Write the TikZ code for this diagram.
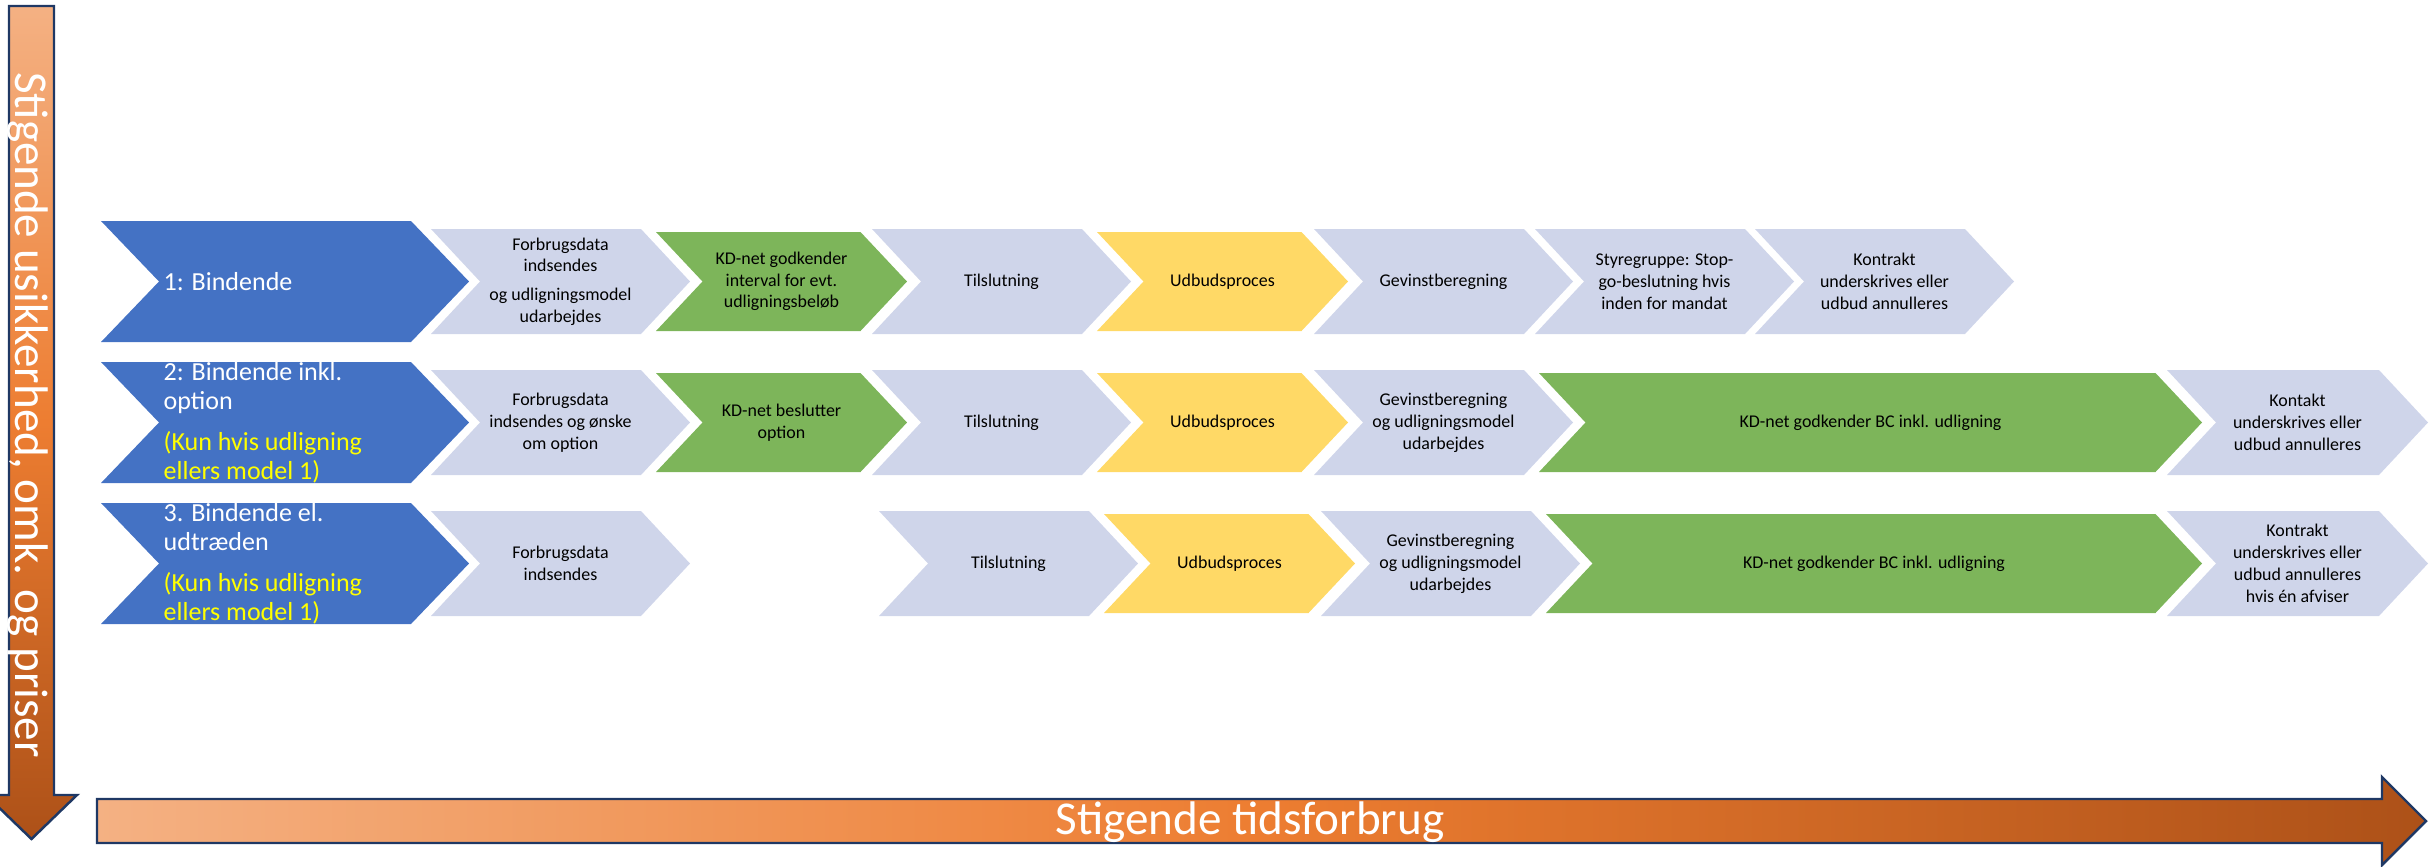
\documentclass[tikz,border=0pt]{standalone}
\usepackage{fontspec}
\setmainfont{Carlito}
\definecolor{chblue}{HTML}{4472C4}
\definecolor{chlav}{HTML}{CFD5EA}
\definecolor{chgreen}{HTML}{7DB55A}
\definecolor{chyel}{HTML}{FFD966}
\definecolor{kunyel}{HTML}{FFFF00}
\definecolor{arrnavy}{HTML}{1F3864}
\definecolor{tlight}{HTML}{F4B183}
\definecolor{tmid}{HTML}{ED7D31}
\definecolor{tdark}{HTML}{AD5118}
\pgfdeclarehorizontalshading{tidgrad}{100bp}{color(0bp)=(tlight); color(25bp)=(tlight); color(50bp)=(tmid); color(75bp)=(tdark); color(100bp)=(tdark)}
% chevron: fill, left x, tip x, mid y, half height, point depth
\newcommand\chev[6]{\fill[#1] (#2,{#4-#5}) -- ({#3-#6},{#4-#5}) -- (#3,#4) -- ({#3-#6},{#4+#5}) -- (#2,{#4+#5}) -- ({#2+#6},#4) -- cycle;}

\begin{document}
\begin{tikzpicture}[x=0.01cm,y=-0.01cm,
  lt/.style={font=\fontsize{5.1}{6.2}\selectfont,align=center,inner sep=0pt},
  bt/.style={font=\fontsize{7.4}{8.25}\selectfont,text=white,align=left,anchor=west,inner sep=0pt},
  arrtxt/.style={font=\fontsize{13.4}{16}\selectfont,text=white,inner sep=0pt,anchor=base},
  arr/.style={shading=tidgrad,draw=arrnavy,line width=0.7pt}]
\useasboundingbox (0,0) rectangle (2432,866);

% axes
\shadedraw[arr,shading angle=-90] (9,6) -- (54,6) -- (54,795) -- (77,795) -- (31.5,839) -- (-14,795) -- (9,795) -- cycle;
\shadedraw[arr] (97,799) -- (2382,799) -- (2382,777) -- (2426,821) -- (2382,865) -- (2382,843) -- (97,843) -- cycle;
\node[arrtxt,rotate=-90] (usik) at (15,415) {Stigende usikkerhed, omk. og priser};
\node[arrtxt] (tid) at (1250,834) {Stigende tidsforbrug};

% row 1
\chev{chblue}{101}{469}{281.5}{60.5}{58}
\chev{chlav}{431}{690}{281.5}{52.5}{49}
\chev{chgreen}{656}{907}{281.5}{49.5}{46.5}
\chev{chlav}{872}{1131}{281.5}{52.5}{49}
\chev{chyel}{1097}{1348}{281.5}{49.5}{46.5}
\chev{chlav}{1314}{1573}{281.5}{52.5}{49}
\chev{chlav}{1535}{1794}{281.5}{52.5}{49}
\chev{chlav}{1755}{2014}{281.5}{52.5}{49}
\node[bt] (b1) at (163,281.5) {1: Bindende};
\node[lt] (fd1) at (560.5,281.5) {Forbrugsdata\\indsendes\\[1.9pt]og udligningsmodel\\udarbejdes};
\node[lt] (kd1) at (781.5,281.5) {KD-net godkender\\interval for evt.\\udligningsbeløb};
\node[lt] (ti1) at (1001.5,281.5) {Tilslutning};
\node[lt] (ud1) at (1222.5,281.5) {Udbudsproces};
\node[lt] (ge1) at (1443.5,281.5) {Gevinstberegning};
\node[lt] (st1) at (1664.5,281.5) {Styregruppe: Stop-\\go-beslutning hvis\\inden for mandat};
\node[lt] (ko1) at (1884.5,281.5) {Kontrakt\\underskrives eller\\udbud annulleres};

% row 2
\chev{chblue}{101}{469}{422.5}{60.5}{58}
\chev{chlav}{431}{690}{422.5}{52.5}{49}
\chev{chgreen}{656}{907}{422.5}{49.5}{46.5}
\chev{chlav}{872}{1131}{422.5}{52.5}{49}
\chev{chyel}{1097}{1348}{422.5}{49.5}{46.5}
\chev{chlav}{1314}{1573}{422.5}{52.5}{49}
\chev{chgreen}{1539}{2202}{422.5}{49.5}{46.5}
\chev{chlav}{2167}{2428}{422.5}{52.5}{49}
\node[bt] (b2) at (163,422.5) {2: Bindende inkl.\\option\\[3.4pt]\textcolor{kunyel}{(Kun hvis udligning}\\\textcolor{kunyel}{ellers model 1)}};
\node[lt] (fd2) at (560.5,422.5) {Forbrugsdata\\indsendes og ønske\\om option};
\node[lt] (kd2) at (781.5,422.5) {KD-net beslutter\\option};
\node[lt] (ti2) at (1001.5,422.5) {Tilslutning};
\node[lt] (ud2) at (1222.5,422.5) {Udbudsproces};
\node[lt] (ge2) at (1443.5,422.5) {Gevinstberegning\\og udligningsmodel\\udarbejdes};
\node[lt] (bc2) at (1870.5,422.5) {KD-net godkender BC inkl. udligning};
\node[lt] (ko2) at (2297.5,422.5) {Kontakt\\underskrives eller\\udbud annulleres};

% row 3
\chev{chblue}{101}{469}{563.5}{60.5}{58}
\chev{chlav}{431}{690}{563.5}{52.5}{49}
\chev{chlav}{879}{1138}{563.5}{52.5}{49}
\chev{chyel}{1104}{1355}{563.5}{49.5}{46.5}
\chev{chlav}{1321}{1580}{563.5}{52.5}{49}
\chev{chgreen}{1546}{2202}{563.5}{49.5}{46.5}
\chev{chlav}{2167}{2428}{563.5}{52.5}{49}
\node[bt] (b3) at (163,563.5) {3. Bindende el.\\udtræden\\[3.4pt]\textcolor{kunyel}{(Kun hvis udligning}\\\textcolor{kunyel}{ellers model 1)}};
\node[lt] (fd3) at (560.5,563.5) {Forbrugsdata\\indsendes};
\node[lt] (ti3) at (1008.5,563.5) {Tilslutning};
\node[lt] (ud3) at (1229.5,563.5) {Udbudsproces};
\node[lt] (ge3) at (1450.5,563.5) {Gevinstberegning\\og udligningsmodel\\udarbejdes};
\node[lt] (bc3) at (1874,563.5) {KD-net godkender BC inkl. udligning};
\node[lt] (ko3) at (2297.5,563.5) {Kontrakt\\underskrives eller\\udbud annulleres\\hvis én afviser};
\end{tikzpicture}
\end{document}
